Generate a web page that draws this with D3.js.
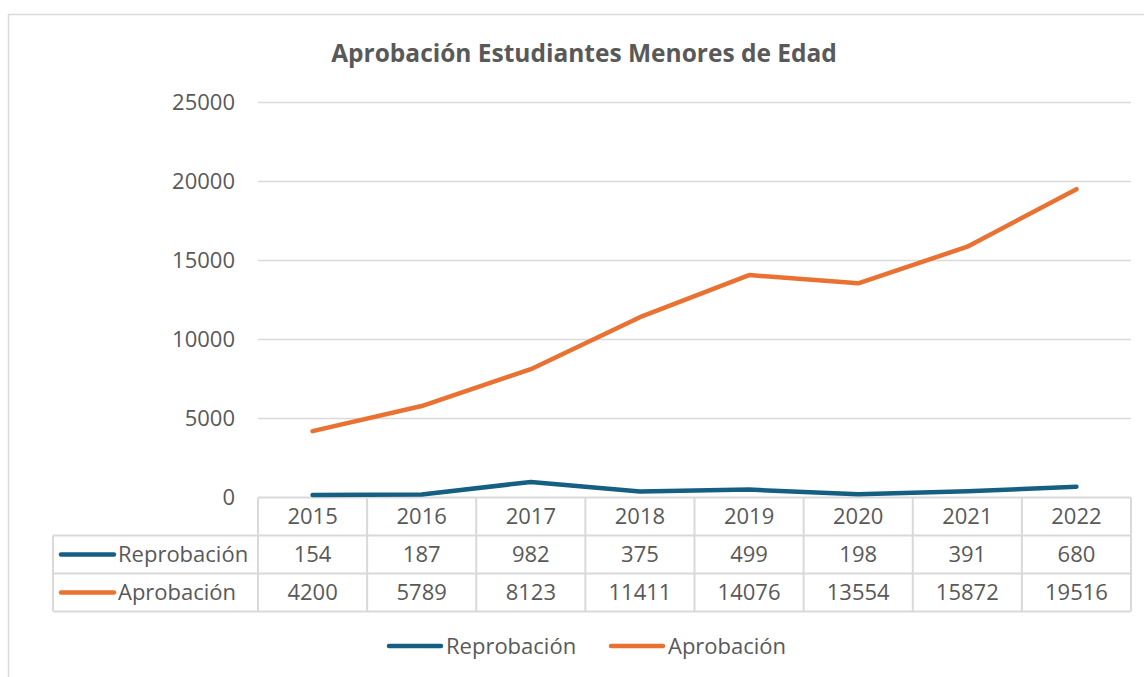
<!DOCTYPE html>
<html>
  <head>
    <meta charset="utf-8" />
    <title>Aprobación Estudiantes Menores de Edad</title>
    <script src="https://d3js.org/d3.v7.min.js"></script>
    <style>

      body {
        margin: 0;
        background: white;
      }

      text {
        font-family: "Open Sans", sans-serif;
        fill: #595959;
      }

    </style>
  </head>
  <body>

    <svg id="viz"></svg>

    <script>

      var years = ["2015", "2016", "2017", "2018", "2019", "2020", "2021", "2022"];
      var reprobacion = [154, 187, 982, 375, 499, 198, 391, 680];
      var aprobacion = [4200, 5789, 8123, 11411, 14076, 13554, 15872, 19516];
      var yTicks = [0, 5000, 10000, 15000, 20000, 25000];

      var series = [
        {name: "Reprobación", values: reprobacion, color: "#156082"},
        {name: "Aprobación", values: aprobacion, color: "#E97132"}
      ];

      var width = 1144;
      var height = 677;
      var grey = "#d9d9d9";

      var svg = d3.select("#viz")
        .attr("width", width)
        .attr("height", height);

      // chart frame (cut off on the right and bottom)
      svg.append("path")
        .attr("d", "M8.5," + (height + 5) + "V14.5H" + (width + 5))
        .attr("fill", "none")
        .attr("stroke", grey)
        .attr("stroke-width", 1.5);

      svg.append("text")
        .attr("x", 584)
        .attr("y", 62)
        .attr("text-anchor", "middle")
        .style("font-weight", "bold")
        .style("font-size", "24.5px")
        .text("Aprobación Estudiantes Menores de Edad");

      var x = d3.scaleBand()
        .domain(years)
        .range([258, 1131]);

      var y = d3.scaleLinear()
        .domain([0, 25000])
        .range([497.5, 102.5]);

      // gridlines + tick labels
      var grid = svg.append("g");
      grid.selectAll("line")
        .data(yTicks.filter(function(d) { return d > 0; }))
        .enter().append("line")
        .attr("x1", 258)
        .attr("x2", 1131)
        .attr("y1", function(d) { return y(d); })
        .attr("y2", function(d) { return y(d); })
        .attr("stroke", grey)
        .attr("stroke-width", 1.5);

      grid.selectAll("text")
        .data(yTicks)
        .enter().append("text")
        .attr("x", 235)
        .attr("y", function(d) { return y(d); })
        .attr("dy", "0.36em")
        .attr("text-anchor", "end")
        .attr("font-size", "22px")
        .text(function(d) { return d; });

      // data table
      var rowTop = [497.5, 535.5, 573.5, 611.5];
      var table = svg.append("g")
        .attr("stroke", grey)
        .attr("stroke-width", 2)
        .attr("fill", "none");

      table.append("line")
        .attr("x1", 258).attr("x2", 1131)
        .attr("y1", rowTop[0]).attr("y2", rowTop[0]);
      rowTop.slice(1).forEach(function(r) {
        table.append("line")
          .attr("x1", 53).attr("x2", 1131)
          .attr("y1", r).attr("y2", r);
      });
      table.append("line")
        .attr("x1", 53).attr("x2", 53)
        .attr("y1", rowTop[1]).attr("y2", rowTop[3]);
      var cuts = years.map(function(d) { return x(d); }).concat([x.range()[1]]);
      cuts.forEach(function(c) {
        table.append("line")
          .attr("x1", c).attr("x2", c)
          .attr("y1", rowTop[0]).attr("y2", rowTop[3]);
      });

      var cells = svg.append("g")
        .attr("text-anchor", "middle")
        .attr("font-size", "22px");

      cells.selectAll(".year")
        .data(years)
        .enter().append("text")
        .attr("x", function(d) { return x(d) + x.bandwidth() / 2; })
        .attr("y", (rowTop[0] + rowTop[1]) / 2)
        .attr("dy", "0.36em")
        .text(function(d) { return d; });

      series.forEach(function(s, i) {
        var cy = (rowTop[i + 1] + rowTop[i + 2]) / 2;
        cells.selectAll(".v" + i)
          .data(s.values)
          .enter().append("text")
          .attr("x", function(d, j) { return x(years[j]) + x.bandwidth() / 2; })
          .attr("y", cy)
          .attr("dy", "0.36em")
          .text(function(d) { return d; });

        svg.append("line")
          .attr("x1", 61).attr("x2", 114)
          .attr("y1", cy).attr("y2", cy)
          .attr("stroke", s.color)
          .attr("stroke-width", 4.5)
          .attr("stroke-linecap", "round");
        svg.append("text")
          .attr("x", 118)
          .attr("y", cy)
          .attr("dy", "0.36em")
          .attr("font-size", "22px")
          .text(s.name);
      });

      // lines
      var line = d3.line()
        .x(function(d, j) { return x(years[j]) + x.bandwidth() / 2; })
        .y(function(d) { return y(d); });

      svg.selectAll(".series")
        .data(series)
        .enter().append("path")
        .attr("d", function(d) { return line(d.values); })
        .attr("fill", "none")
        .attr("stroke", function(d) { return d.color; })
        .attr("stroke-width", 4.5)
        .attr("stroke-linecap", "round")
        .attr("stroke-linejoin", "round");

      // legend
      var legendX = [389, 611];
      var legend = svg.selectAll(".legend")
        .data(series)
        .enter().append("g")
        .attr("transform", function(d, i) { return "translate(" + legendX[i] + ",646)"; });

      legend.append("line")
        .attr("x1", 0).attr("x2", 52)
        .attr("stroke", function(d) { return d.color; })
        .attr("stroke-width", 4.5)
        .attr("stroke-linecap", "round");

      legend.append("text")
        .attr("x", 57)
        .attr("dy", "0.36em")
        .attr("font-size", "22px")
        .text(function(d) { return d.name; });

    </script>
  </body>
</html>
